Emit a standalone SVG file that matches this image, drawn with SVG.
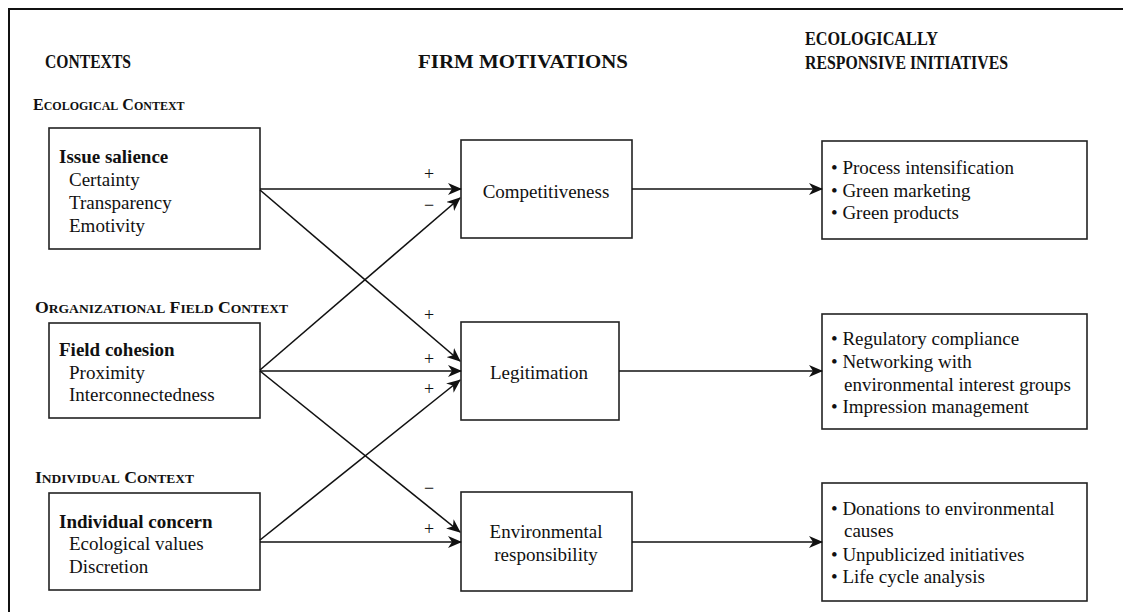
<svg xmlns="http://www.w3.org/2000/svg" width="1123" height="612" viewBox="0 0 1123 612">
<defs>
<style>
.frame{stroke:#111;stroke-width:2;fill:none}
.box{fill:#fff;stroke:#222;stroke-width:1.6}
.hdr{font-family:"Liberation Serif",serif;font-weight:bold;font-size:19px;fill:#111}
.sc{font-family:"Liberation Serif",serif;font-weight:bold;font-size:17px;fill:#111}
.scs{font-size:13px}
.sc2{font-size:16px}
.scs2{font-size:12px}
.t{font-family:"Liberation Serif",serif;font-size:19px;fill:#111}
.tb{font-family:"Liberation Serif",serif;font-size:19px;font-weight:bold;fill:#111}
.sign{font-family:"Liberation Serif",serif;font-size:18px;fill:#111}
.ln{stroke:#111;stroke-width:1.6;fill:none;marker-end:url(#ah)}
</style>
<marker id="ah" markerUnits="userSpaceOnUse" markerWidth="14" markerHeight="12" refX="13" refY="6" orient="auto">
<path d="M0,0 L14,6 L0,12 L4,6 z" fill="#111"/>
</marker>
</defs>
<rect width="1123" height="612" fill="#fff"/>
<path class="frame" d="M9,612 L9,9 L1123,9"/>

<g id="headers">
<text class="hdr" x="45" y="68" textLength="86" lengthAdjust="spacingAndGlyphs">CONTEXTS</text>
<text class="hdr" x="418" y="68" textLength="210" lengthAdjust="spacingAndGlyphs">FIRM MOTIVATIONS</text>
<text class="hdr" x="805" y="45" textLength="133" lengthAdjust="spacingAndGlyphs">ECOLOGICALLY</text>
<text class="hdr" x="805" y="69" textLength="203" lengthAdjust="spacingAndGlyphs">RESPONSIVE INITIATIVES</text>
<text class="sc sc2" x="33" y="110">E<tspan class="scs2">COLOGICAL</tspan> C<tspan class="scs2">ONTEXT</tspan></text>
<text class="sc" x="35" y="313" textLength="253" lengthAdjust="spacingAndGlyphs">O<tspan class="scs">RGANIZATIONAL</tspan> F<tspan class="scs">IELD</tspan> C<tspan class="scs">ONTEXT</tspan></text>
<text class="sc" x="35" y="483" textLength="159" lengthAdjust="spacingAndGlyphs">I<tspan class="scs">NDIVIDUAL</tspan> C<tspan class="scs">ONTEXT</tspan></text>
</g>

<g id="issue-salience">
<rect class="box" x="49" y="128" width="211" height="121"/>
<text class="tb" x="59" y="163">Issue salience</text>
<text class="t" x="69" y="186">Certainty</text>
<text class="t" x="69" y="209">Transparency</text>
<text class="t" x="69" y="232">Emotivity</text>
</g>

<g id="field-cohesion">
<rect class="box" x="49" y="323" width="211" height="95"/>
<text class="tb" x="59" y="356">Field cohesion</text>
<text class="t" x="69" y="379">Proximity</text>
<text class="t" x="69" y="401">Interconnectedness</text>
</g>

<g id="individual-concern">
<rect class="box" x="49" y="493" width="211" height="97"/>
<text class="tb" x="59" y="528">Individual concern</text>
<text class="t" x="69" y="550">Ecological values</text>
<text class="t" x="69" y="573">Discretion</text>
</g>

<g id="competitiveness">
<rect class="box" x="461" y="140" width="171" height="98"/>
<text class="t" x="546" y="198" text-anchor="middle">Competitiveness</text>
</g>

<g id="legitimation">
<rect class="box" x="461" y="322" width="158" height="98"/>
<text class="t" x="539" y="379" text-anchor="middle">Legitimation</text>
</g>

<g id="environmental-responsibility">
<rect class="box" x="461" y="492" width="171" height="99"/>
<text class="t" x="546" y="538" text-anchor="middle">Environmental</text>
<text class="t" x="546" y="561" text-anchor="middle">responsibility</text>
</g>

<g id="initiatives-competitiveness">
<rect class="box" x="822" y="141" width="265" height="98"/>
<text class="t" x="831" y="174">• Process intensification</text>
<text class="t" x="831" y="197">• Green marketing</text>
<text class="t" x="831" y="219">• Green products</text>
</g>

<g id="initiatives-legitimation">
<rect class="box" x="822" y="314" width="265" height="115"/>
<text class="t" x="831" y="345">• Regulatory compliance</text>
<text class="t" x="831" y="368">• Networking with</text>
<text class="t" x="844" y="391">environmental interest groups</text>
<text class="t" x="831" y="413">• Impression management</text>
</g>

<g id="initiatives-responsibility">
<rect class="box" x="822" y="483" width="265" height="118"/>
<text class="t" x="831" y="515">• Donations to environmental</text>
<text class="t" x="844" y="537">causes</text>
<text class="t" x="831" y="561">• Unpublicized initiatives</text>
<text class="t" x="831" y="583">• Life cycle analysis</text>
</g>

<g id="connectors">
<line class="ln" x1="260" y1="189" x2="461" y2="189"/>
<line class="ln" x1="260" y1="190" x2="460" y2="361"/>
<line class="ln" x1="260" y1="370" x2="460" y2="198"/>
<line class="ln" x1="260" y1="371" x2="461" y2="371"/>
<line class="ln" x1="260" y1="371" x2="460" y2="532"/>
<line class="ln" x1="260" y1="540" x2="460" y2="380"/>
<line class="ln" x1="260" y1="542" x2="461" y2="542"/>
<line class="ln" x1="632" y1="189" x2="822" y2="189"/>
<line class="ln" x1="619" y1="371" x2="822" y2="371"/>
<line class="ln" x1="632" y1="542" x2="822" y2="542"/>
</g>

<g id="signs">
<text class="sign" x="429" y="180" text-anchor="middle">+</text>
<text class="sign" x="429" y="211" text-anchor="middle">−</text>
<text class="sign" x="429" y="321" text-anchor="middle">+</text>
<text class="sign" x="429" y="365" text-anchor="middle">+</text>
<text class="sign" x="429" y="395" text-anchor="middle">+</text>
<text class="sign" x="429" y="494" text-anchor="middle">−</text>
<text class="sign" x="429" y="535" text-anchor="middle">+</text>
</g>
</svg>
